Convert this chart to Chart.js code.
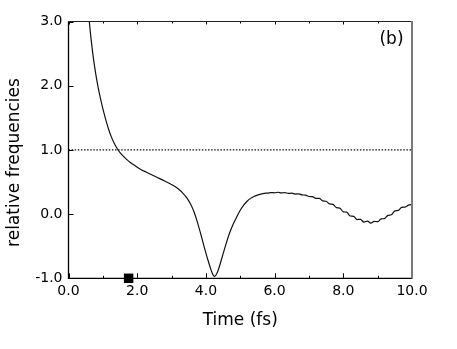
<!DOCTYPE html>
<html>
<head>
<meta charset="utf-8">
<script src="https://cdn.jsdelivr.net/npm/chart.js@4.4.0/dist/chart.umd.min.js"></script>
<style>
    html, body { margin: 0; padding: 0; background: #fff; }
    #wrap { width: 457px; height: 349px; position: relative; }
</style>
</head>
<body>
<div id="wrap"><canvas id="canvas"></canvas></div>
<script>
    'use strict';

    // relative frequency vs time
    var timeFs = [
        0.58, 0.605, 0.65, 0.70, 0.76, 0.82, 0.87, 0.93, 1.00, 1.08, 1.16, 1.25, 1.33, 1.42, 1.50,
        1.60, 1.70, 1.80, 1.95, 2.08, 2.30, 2.57, 2.80, 3.05, 3.20, 3.34, 3.45, 3.55, 3.65, 3.75,
        3.85, 3.95, 4.05, 4.12, 4.18, 4.24, 4.30, 4.36, 4.43, 4.50, 4.60, 4.70, 4.80, 4.90, 5.00,
        5.10, 5.20, 5.30, 5.40, 5.50,
        5.6, 5.7, 5.8, 5.9, 6.0, 6.1, 6.2, 6.3, 6.4, 6.5, 6.6, 6.7, 6.8, 6.9, 7.0, 7.1, 7.2, 7.3,
        7.4, 7.5, 7.6, 7.7, 7.8, 7.9, 8.0, 8.1, 8.2, 8.3, 8.4, 8.5, 8.6, 8.7, 8.8, 8.9, 9.0, 9.1,
        9.2, 9.3, 9.4, 9.5, 9.6, 9.7, 9.8, 9.9, 10.0
    ];
    var relFreq = [
        3.13, 3.00, 2.761, 2.531, 2.297, 2.099, 1.956, 1.803, 1.642, 1.478, 1.334, 1.199, 1.103, 1.018, 0.958,
        0.898, 0.848, 0.805, 0.751, 0.704, 0.645, 0.575, 0.515, 0.445, 0.39, 0.32, 0.25, 0.16, 0.04, -0.12,
        -0.31, -0.51, -0.70, -0.82, -0.915, -0.97, -0.945, -0.87, -0.75, -0.62, -0.44, -0.28, -0.15, -0.04, 0.06,
        0.14, 0.20, 0.245, 0.275, 0.295,
        0.310, 0.322, 0.328, 0.336, 0.332, 0.340, 0.330, 0.336, 0.322, 0.326, 0.312, 0.316, 0.298, 0.296, 0.274, 0.272, 0.244, 0.244,
        0.206, 0.200, 0.158, 0.152, 0.100, 0.094, 0.035, 0.030, -0.030, -0.035, -0.085, -0.082, -0.125, -0.108, -0.140, -0.112, -0.118, -0.075,
        -0.070, -0.020, -0.010, 0.050, 0.058, 0.105, 0.110, 0.140, 0.150
    ];

    // dotted reference line at 1.0
    var refTime = [0, 10];
    var refValue = [1.0, 1.0];

    // square marker on the time axis
    var markTime = [1.75];
    var markValue = [-1.0];

    var xTickValues = [0, 2, 4, 6, 8, 10];
    var xMinorValues = [1, 3, 5, 7, 9];
    var yTickValues = [-1, 0, 1, 2, 3];

    function toPoints(xs, ys) {
        return xs.map(function (x, i) { return { x: x, y: ys[i] }; });
    }

    Chart.defaults.font.family = 'DejaVu Sans';
    Chart.defaults.color = '#000';

    // frame, inward ticks and free text
    var framePlugin = {
        id: 'frame',
        afterDraw: function (chart) {
            var ctx = chart.ctx;
            var a = chart.chartArea;
            var xs = chart.scales.x;
            var ys = chart.scales.y;
            ctx.save();

            ctx.strokeStyle = '#000';
            ctx.lineWidth = 1;
            xTickValues.concat(xMinorValues).forEach(function (v) {
                var px = Math.round(xs.getPixelForValue(v)) + 0.5;
                var len = xTickValues.indexOf(v) >= 0 ? 5 : 2.5;
                ctx.beginPath();
                ctx.moveTo(px, a.bottom);
                ctx.lineTo(px, a.bottom - len);
                ctx.moveTo(px, a.top);
                ctx.lineTo(px, a.top + (len > 3 ? 3 : 2));
                ctx.stroke();
            });
            yTickValues.forEach(function (v) {
                var py = Math.round(ys.getPixelForValue(v)) + 0.5;
                ctx.beginPath();
                ctx.moveTo(a.left, py);
                ctx.lineTo(a.left + 5, py);
                ctx.stroke();
            });

            // box
            ctx.strokeStyle = '#222';
            ctx.beginPath();
            ctx.moveTo(a.left, a.top);
            ctx.lineTo(a.right, a.top);
            ctx.stroke();
            ctx.strokeStyle = '#000';
            ctx.lineWidth = 1.3;
            ctx.beginPath();
            ctx.moveTo(a.left, a.top);
            ctx.lineTo(a.left, a.bottom);
            ctx.lineTo(a.right, a.bottom);
            ctx.stroke();
            ctx.strokeStyle = '#7a7a7a';
            ctx.lineWidth = 2;
            ctx.beginPath();
            ctx.moveTo(a.right, a.top - 0.5);
            ctx.lineTo(a.right, a.bottom);
            ctx.stroke();

            // y axis title, sits a bit below the middle of the axis
            ctx.fillStyle = '#000';
            ctx.font = '17px "DejaVu Sans"';
            ctx.textAlign = 'center';
            ctx.textBaseline = 'middle';
            ctx.translate(14.5, 162.5);
            ctx.rotate(-Math.PI / 2);
            ctx.fillText('relative frequencies', 0, 0);
            ctx.restore();

            // panel label
            ctx.save();
            ctx.fillStyle = '#000';
            ctx.font = '17px "DejaVu Sans"';
            ctx.textAlign = 'center';
            ctx.textBaseline = 'middle';
            ctx.fillText('(b)', 391.5, 40);
            ctx.restore();
        }
    };

    var ctx = document.getElementById('canvas').getContext('2d');
    window.myChart = new Chart(ctx, {
        type: 'line',
        data: {
            datasets: [{
                label: 'relative frequency',
                data: toPoints(timeFs, relFreq),
                borderColor: '#111',
                borderWidth: 1.2,
                pointRadius: 0,
                cubicInterpolationMode: 'monotone',
                fill: false
            },
            {
                label: 'reference',
                data: toPoints(refTime, refValue),
                borderColor: '#111',
                borderWidth: 1.1,
                borderDash: [1.5, 1.6],
                pointRadius: 0,
                fill: false
            },
            {
                label: 'marker',
                type: 'scatter',
                data: toPoints(markTime, markValue),
                pointStyle: 'rect',
                pointRadius: 6.7,
                pointBackgroundColor: '#000',
                pointBorderWidth: 0,
                clip: false
            }]
        },
        options: {
            responsive: true,
            maintainAspectRatio: false,
            animation: false,
            layout: { padding: { top: 21.5, right: 45, bottom: 0, left: 0 } },
            plugins: {
                legend: { display: false },
                tooltip: { enabled: false }
            },
            scales: {
                x: {
                    type: 'linear',
                    min: 0,
                    max: 10,
                    grid: { display: false, drawTicks: false },
                    border: { display: false },
                    afterBuildTicks: function (scale) {
                        scale.ticks = xTickValues.map(function (v) { return { value: v }; });
                    },
                    afterFit: function (scale) { scale.height = 70.7; },
                    ticks: {
                        padding: 5,
                        maxRotation: 0,
                        font: { size: 14 },
                        color: '#000',
                        callback: function (v) { return v.toFixed(1); }
                    },
                    title: {
                        display: true,
                        text: 'Time (fs)',
                        font: { size: 17 },
                        color: '#000',
                        padding: { top: 0, bottom: 18 }
                    }
                },
                y: {
                    type: 'linear',
                    min: -1,
                    max: 3,
                    grid: { display: false, drawTicks: false },
                    border: { display: false },
                    afterBuildTicks: function (scale) {
                        scale.ticks = yTickValues.map(function (v) { return { value: v }; });
                    },
                    afterFit: function (scale) { scale.width = 68.5; },
                    ticks: {
                        padding: 6,
                        font: { size: 14 },
                        color: '#000',
                        callback: function (v) { return v.toFixed(1); }
                    }
                }
            }
        },
        plugins: [framePlugin]
    });
</script>
</body>
</html>
